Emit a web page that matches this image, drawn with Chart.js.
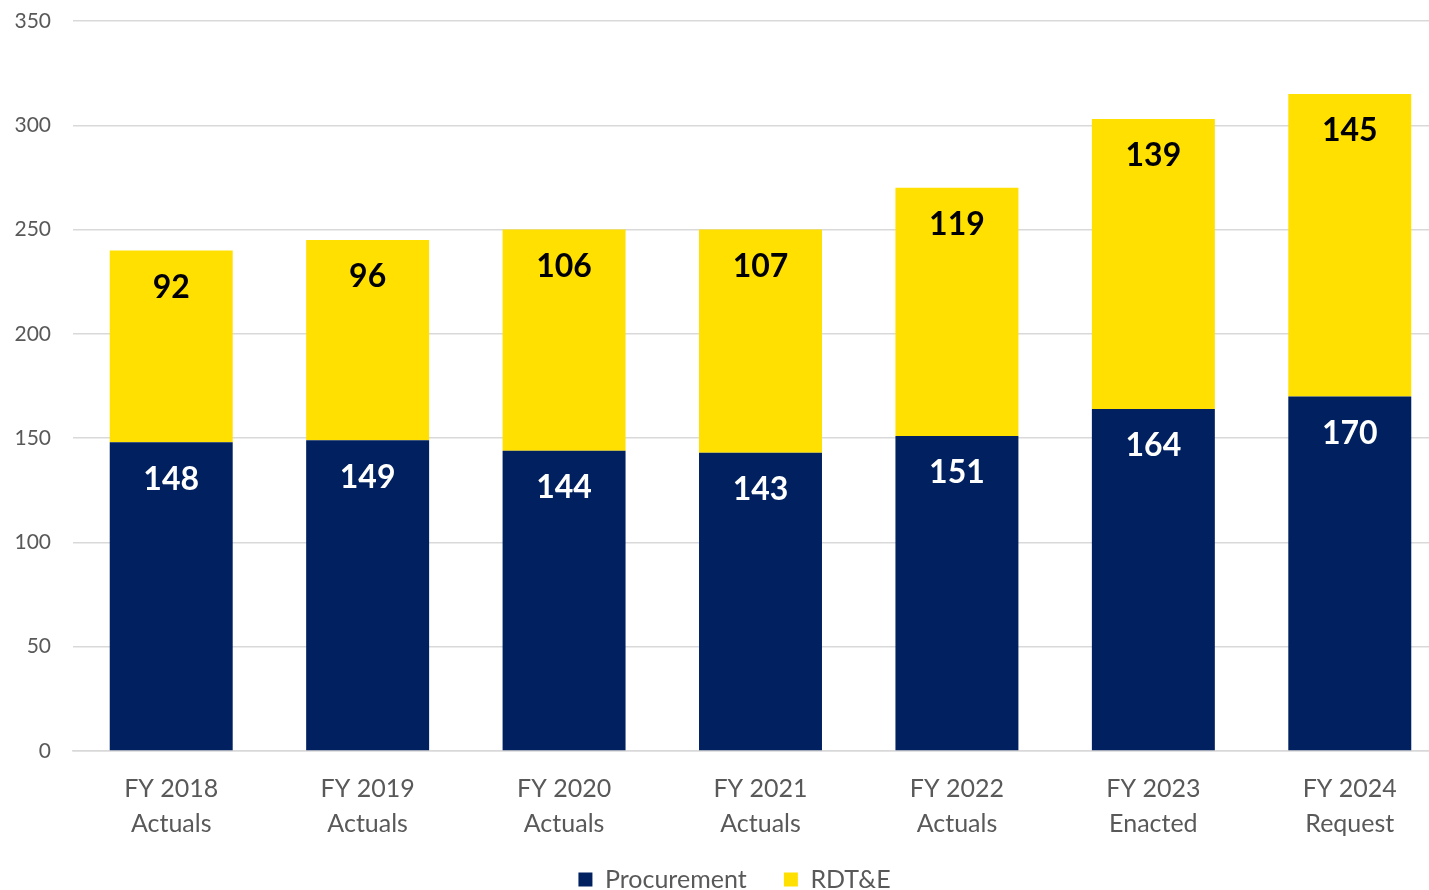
<!DOCTYPE html>
<html>
<head>
<meta charset="utf-8">
<script src="https://cdn.jsdelivr.net/npm/chart.js@4.4.0/dist/chart.umd.min.js"></script>
<style>
  html, body { margin: 0; padding: 0; background: #fff; overflow: hidden; }
  #wrap { width: 1429px; height: 890px; overflow: hidden; position: relative; }
  canvas { position: absolute; left: 0; top: 0; }
</style>
</head>
<body>
<div id="wrap"><canvas id="myChart" width="1469" height="902"></canvas></div>
<script>
const categories = [
  ['FY 2018', 'Actuals'],
  ['FY 2019', 'Actuals'],
  ['FY 2020', 'Actuals'],
  ['FY 2021', 'Actuals'],
  ['FY 2022', 'Actuals'],
  ['FY 2023', 'Enacted'],
  ['FY 2024', 'Request']
];
const procurement = [148, 149, 144, 143, 151, 164, 170];
const rdte = [92, 96, 106, 107, 119, 139, 145];
const yMax = 350;
const yStep = 50;

// value labels just under the top of each segment
const barLabels = {
  id: 'barLabels',
  afterDatasetsDraw(chart) {
    const ctx = chart.ctx;
    ctx.save();
    ctx.font = 'bold 32px Lato, "Open Sans", sans-serif';
    ctx.textAlign = 'center';
    ctx.textBaseline = 'middle';
    chart.data.datasets.forEach((ds, i) => {
      const meta = chart.getDatasetMeta(i);
      ctx.fillStyle = i === 0 ? '#ffffff' : '#000000';
      meta.data.forEach((bar, j) => {
        ctx.fillText(ds.data[j], bar.x, bar.y + 37);
      });
    });
    ctx.restore();
  }
};

const ctx = document.getElementById('myChart').getContext('2d');
const myChart = new Chart(ctx, {
  type: 'bar',
  data: {
    labels: categories,
    datasets: [
      {
        label: 'Procurement',
        data: procurement,
        backgroundColor: '#002060',
        categoryPercentage: 0.626,
        barPercentage: 1.0
      },
      {
        label: 'RDT&E',
        data: rdte,
        backgroundColor: '#ffe000',
        categoryPercentage: 0.626,
        barPercentage: 1.0
      }
    ]
  },
  options: {
    responsive: false,
    animation: false,
    layout: { padding: 0 },
    plugins: {
      tooltip: { enabled: false },
      legend: {
        position: 'bottom',
        labels: {
          boxWidth: 14,
          boxHeight: 14,
          padding: 6,
          color: '#595959',
          font: { family: 'Lato, "Open Sans", sans-serif', size: 25 },
          generateLabels(chart) {
            const items = Chart.defaults.plugins.legend.labels.generateLabels(chart);
            items[0].text += '\u2003\u2002';
            return items;
          }
        }
      }
    },
    scales: {
      x: {
        stacked: true,
        grid: { display: false, drawTicks: false },
        border: { color: '#d9d9d9', width: 1.5 },
        ticks: {
          color: '#595959',
          padding: 20,
          font: { family: 'Lato, "Open Sans", sans-serif', size: 25, lineHeight: 1.4 }
        }
      },
      y: {
        stacked: true,
        min: 0,
        max: yMax,
        afterFit(axis) {
          axis.width = 73;
          axis.paddingTop = 21;
          axis.paddingBottom = 0;
        },
        grid: { color: '#d9d9d9', lineWidth: 1.5, drawTicks: false },
        border: { display: false },
        ticks: {
          stepSize: yStep,
          color: '#595959',
          padding: 22,
          font: { family: 'Lato, "Open Sans", sans-serif', size: 21 }
        }
      },
      // empty spacer on the right, the plot runs past the picture edge
      yRight: {
        position: 'right',
        min: 0,
        max: yMax,
        afterFit(axis) {
          axis.width = 21;
          axis.paddingTop = 0;
          axis.paddingBottom = 0;
        },
        grid: { display: false, drawTicks: false },
        border: { display: false },
        ticks: { display: false }
      }
    }
  },
  plugins: [barLabels]
});
</script>
</body>
</html>
